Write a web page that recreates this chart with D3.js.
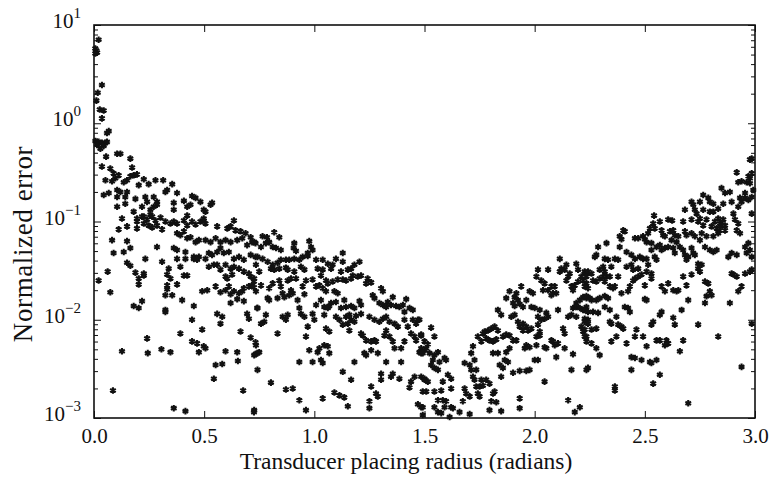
<!DOCTYPE html>
<html>
<head>
<meta charset="utf-8">
<script src="https://cdn.jsdelivr.net/npm/d3@7"></script>
<style>
  body { margin: 0; background: #fff; }
  svg text { font-family: "Liberation Serif", "Times New Roman", serif; fill: #111; }
</style>
</head>
<body>
<div id="chart"></div>
<script>
// each point: [transducer placing radius (rad), log10 of normalized error]
var decayNear = [
  [0.021,0.85],[0.006,0.76],[0.011,0.74],[0.014,0.72],[0.006,0.71],[0.036,0.39],[0.017,0.31],[0.011,0.23],
  [0.026,0.14],[0.044,0.13],[0.036,0.05],[0.067,-0.08],[0.059,-0.10],[0.006,-0.18],[0.021,-0.19],[0.036,-0.20],
  [0.052,-0.20],[0.059,-0.19],[0.014,-0.22],[0.044,-0.23],[0.029,-0.26],[0.055,-0.34],[0.105,-0.31],[0.120,-0.31],
  [0.165,-0.36],[0.036,-0.44],[0.074,-0.46],[0.089,-0.51],[0.112,-0.53],[0.097,-0.56],[0.173,-0.45],[0.052,-0.58],
  [0.082,-0.59],[0.135,-0.60],[0.150,-0.58],[0.165,-0.54],[0.180,-0.53],[0.195,-0.52],[0.226,-0.57],[0.279,-0.58],
  [0.314,-0.58],[0.355,-0.62],[0.203,-0.63],[0.248,-0.62],[0.332,-0.68],[0.377,-0.71],[0.067,-0.71],[0.044,-0.73],
  [0.105,-0.68],[0.120,-0.70],[0.150,-0.70],[0.105,-0.75],[0.142,-0.75],[0.188,-0.77],[0.233,-0.75],[0.271,-0.75],
  [0.241,-0.80],[0.286,-0.80],[0.324,-0.70],[0.105,-0.85],[0.142,-0.82],[0.180,-0.90],[0.218,-0.85],[0.256,-0.88],
  [0.271,-0.85],[0.286,-0.83],[0.362,-0.81],[0.362,-0.88],[0.408,-0.79],[0.423,-0.85],[0.445,-0.74],[0.461,-0.76],
  [0.483,-0.80],[0.438,-0.83],[0.498,-0.88],[0.506,-0.90],[0.529,-0.83],[0.536,-0.81],[0.226,-0.95],[0.256,-0.93],
  [0.127,-0.97],[0.423,-0.94],[0.498,-0.97],
  [0.195,-0.97],[0.218,-0.95],[0.241,-0.98],[0.264,-0.95],[0.279,-0.99],[0.302,-0.96],[0.324,-1.00],[0.195,-1.00],
  [0.226,-1.02],[0.248,-1.04],[0.264,-1.06],[0.286,-1.04],[0.309,-1.08],[0.347,-1.02],[0.362,-1.00],[0.377,-1.02],
  [0.408,-0.99],[0.423,-1.04],[0.445,-1.00],[0.461,-1.03],[0.483,-1.00],[0.498,-0.99],[0.506,-1.02],[0.635,-0.99],
  [0.559,-1.05],[0.605,-1.07],[0.620,-1.05],[0.642,-1.09],[0.665,-1.10],[0.688,-1.12],[0.711,-1.16],[0.112,-1.08],
  [0.150,-1.05],[0.195,-1.07],[0.082,-1.19],[0.150,-1.20],[0.377,-1.12],[0.392,-1.14],[0.408,-1.10],[0.423,-1.17],
  [0.438,-1.16],[0.461,-1.21],[0.476,-1.19],[0.506,-1.19],[0.529,-1.21],[0.552,-1.17],[0.574,-1.21],[0.597,-1.19],
  [0.620,-1.21],[0.650,-1.19],[0.673,-1.17],[0.695,-1.24],[0.718,-1.21],[0.733,-1.22],[0.089,-1.32],[0.135,-1.31],
  [0.165,-1.27],[0.286,-1.26],[0.362,-1.27],[0.377,-1.29],[0.415,-1.31],[0.453,-1.36],[0.476,-1.36],[0.506,-1.38],
  [0.521,-1.32],[0.536,-1.34],[0.559,-1.31],[0.574,-1.27],[0.589,-1.32],[0.612,-1.31],[0.635,-1.38],[0.658,-1.36],
  [0.680,-1.39],[0.711,-1.34],[0.733,-1.36],[0.377,-1.38],[0.415,-1.38],[0.233,-1.38],[0.150,-1.42],[0.165,-1.45],
  [0.309,-1.41],[0.339,-1.48],[0.392,-1.46],[0.453,-1.38],[0.468,-1.39],[0.521,-1.46],[0.544,-1.44],[0.559,-1.44],
  [0.574,-1.49],[0.597,-1.44],[0.620,-1.48],[0.635,-1.46],[0.658,-1.48],[0.680,-1.51],[0.703,-1.53],[0.062,-1.51],
  [0.188,-1.52],[0.226,-1.53],[0.226,-1.55],[0.203,-1.58],[0.332,-1.54],[0.347,-1.58],[0.408,-1.55],[0.423,-1.55],
  [0.597,-1.56],[0.605,-1.58],[0.627,-1.54],[0.711,-1.56],[0.726,-1.61],[0.718,-1.65],[0.021,-1.60],[0.203,-1.64],
  [0.332,-1.65],[0.332,-1.69],[0.377,-1.64],[0.491,-1.71],[0.514,-1.70],[0.552,-1.66],[0.574,-1.72],[0.597,-1.70],
  [0.612,-1.66],[0.620,-1.74],[0.635,-1.71],[0.658,-1.73],[0.673,-1.71],[0.680,-1.68],[0.703,-1.66],[0.726,-1.67],
  [0.074,-1.72],[0.324,-1.75],[0.355,-1.75],[0.400,-1.80],[0.180,-1.86],[0.203,-1.88],[0.218,-1.81],[0.324,-1.90],
  [0.324,-1.92],[0.453,-1.86],[0.559,-1.94],[0.620,-1.83],[0.650,-1.79],[0.680,-1.81],[0.695,-1.94],[0.703,-1.99],
  [0.445,-2.00],[0.582,-1.97],[0.574,-2.04],[0.741,-1.88],[0.241,-2.19],[0.392,-2.14],[0.445,-2.22],[0.468,-2.24],
  [0.491,-2.10],[0.498,-2.27],[0.476,-2.33],[0.506,-2.29],[0.711,-2.18],[0.733,-2.23],[0.665,-2.12],[0.127,-2.32],
  [0.244,-2.34],[0.306,-2.30],[0.347,-2.33],[0.597,-2.32],[0.650,-2.33],[0.733,-2.35],[0.552,-2.46],[0.582,-2.45],
  [0.653,-2.42],[0.544,-2.60],[0.086,-2.72],[0.677,-2.72],[0.362,-2.90],[0.415,-2.93],[0.726,-2.94]
];

var decayFar = [
  [0.765,-1.15],[0.785,-1.16],[0.795,-1.21],[0.818,-1.11],[0.841,-1.16],[0.780,-1.22],[0.727,-1.21],[0.758,-1.26],
  [0.811,-1.26],[0.826,-1.27],[0.848,-1.29],[0.909,-1.22],[0.906,-1.27],[0.917,-1.30],[0.977,-1.20],[0.985,-1.26],
  [0.992,-1.29],[0.970,-1.32],[1.129,-1.32],[0.742,-1.36],[0.765,-1.38],[0.788,-1.41],[0.811,-1.44],[0.833,-1.42],
  [0.848,-1.39],[0.871,-1.39],[0.886,-1.39],[0.909,-1.38],[0.932,-1.39],[0.947,-1.36],[0.970,-1.35],[1.008,-1.39],
  [1.038,-1.39],[1.061,-1.43],[1.083,-1.44],[1.098,-1.38],[1.129,-1.41],[1.167,-1.48],[1.182,-1.44],[1.205,-1.41],
  [0.735,-1.44],[0.750,-1.51],[0.803,-1.48],[0.818,-1.49],[0.841,-1.48],[0.871,-1.47],[0.879,-1.49],[0.909,-1.51],
  [0.939,-1.46],[0.955,-1.49],[1.015,-1.48],[1.038,-1.49],[1.076,-1.48],[1.121,-1.51],[1.152,-1.49],[1.174,-1.55],
  [1.197,-1.56],[1.212,-1.55],[0.727,-1.58],[0.758,-1.65],[0.811,-1.63],[0.841,-1.60],[0.879,-1.60],[0.894,-1.58],
  [0.917,-1.58],[0.962,-1.60],[0.992,-1.59],[1.030,-1.55],[1.053,-1.60],[1.061,-1.63],[1.083,-1.61],[1.106,-1.59],
  [1.129,-1.59],[1.144,-1.60],[1.167,-1.58],[1.242,-1.58],[1.235,-1.63],[1.258,-1.62],[1.303,-1.68],[1.311,-1.71],
  [0.735,-1.71],[0.795,-1.68],[0.848,-1.66],[0.856,-1.73],[0.864,-1.77],[0.886,-1.75],[0.902,-1.73],[0.947,-1.66],
  [0.955,-1.74],[1.008,-1.66],[1.023,-1.65],[1.038,-1.68],[1.053,-1.71],[1.091,-1.71],[1.106,-1.73],[1.136,-1.80],
  [1.098,-1.82],[1.076,-1.83],[1.061,-1.88],[1.068,-1.86],[0.788,-1.78],[0.795,-1.80],[0.833,-1.78],[0.894,-1.70],
  [0.924,-1.80],[1.008,-1.85],[1.030,-1.80],[1.045,-1.87],[1.061,-1.87],[1.121,-1.88],[1.144,-1.87],[1.167,-1.86],
  [1.182,-1.88],[1.205,-1.81],[1.212,-1.85],[1.265,-1.75],[1.273,-1.78],[1.295,-1.83],[1.311,-1.85],[1.326,-1.87],
  [1.333,-1.82],[1.348,-1.85],[1.356,-1.77],[1.371,-1.86],[1.386,-1.87],[1.402,-1.85],[1.417,-1.79],[1.432,-1.88],
  [1.447,-1.90],[1.409,-1.92],[0.742,-1.88],[0.780,-1.95],[0.773,-2.02],[0.758,-2.04],[0.856,-1.97],[0.879,-1.95],
  [0.871,-2.00],[0.932,-1.88],[0.939,-1.94],[0.955,-1.97],[0.992,-1.94],[1.000,-2.00],[0.970,-2.07],[1.045,-1.95],
  [1.053,-2.09],[1.068,-2.12],[1.098,-1.97],[1.114,-2.00],[1.129,-2.05],[1.144,-1.97],[1.159,-1.95],[1.167,-2.00],
  [1.182,-2.02],[1.152,-2.04],[1.159,-2.11],[1.189,-1.96],[1.212,-1.94],[1.250,-1.97],[1.273,-2.00],[1.295,-2.02],
  [1.311,-1.99],[1.326,-1.97],[1.341,-2.02],[1.364,-2.04],[1.379,-2.07],[1.409,-2.00],[1.424,-2.07],[1.447,-2.00],
  [1.462,-2.04],[1.470,-2.00],[0.833,-2.14],[0.962,-2.17],[0.977,-2.31],[1.023,-2.29],[1.045,-2.26],[1.061,-2.27],
  [1.068,-2.34],[1.015,-2.33],[0.932,-2.43],[0.992,-2.43],[1.030,-2.41],[1.038,-2.44],[1.182,-2.43],[1.212,-2.14],
  [1.220,-2.16],[1.235,-2.21],[1.258,-2.22],[1.273,-2.21],[1.258,-2.31],[1.280,-2.22],[1.227,-2.34],[1.235,-2.36],
  [1.288,-2.34],[1.326,-2.11],[1.341,-2.17],[1.318,-2.16],[1.356,-2.22],[1.364,-2.29],[1.394,-2.29],[1.409,-2.22],
  [1.439,-2.14],[1.455,-2.17],[1.462,-2.21],[1.485,-2.16],[1.477,-2.33],[1.485,-2.34],[1.500,-2.31],[1.326,-2.43],
  [1.394,-2.43],[0.735,-2.26],[0.750,-2.33],[0.742,-2.34],[0.727,-2.36],[0.742,-2.51],[0.803,-2.64],[0.871,-2.71],
  [0.902,-2.70],[0.932,-2.82],[0.962,-2.92],[1.038,-2.80],[1.091,-2.74],[1.114,-2.77],[1.136,-2.79],[1.129,-2.53],
  [1.167,-2.61],[1.152,-2.88],[1.250,-2.90],[1.250,-2.83],[1.258,-2.68],[1.280,-2.75],[1.288,-2.78],[1.303,-2.61],
  [1.303,-2.55],[1.348,-2.58],[1.356,-2.55],[1.386,-2.60],[1.432,-2.69],[1.439,-2.63],[1.455,-2.58],[1.470,-2.86],
  [1.492,-2.89],[1.492,-2.73],[1.500,-2.60],[0.727,-2.92]
];

var valley = [
  [1.477,-2.00],[1.530,-2.08],[1.485,-2.15],[1.545,-2.17],[1.500,-2.22],[1.515,-2.25],[1.485,-2.29],[1.508,-2.29],
  [1.492,-2.34],[1.523,-2.34],[1.561,-2.33],[1.545,-2.36],[1.538,-2.41],[1.568,-2.43],[1.530,-2.46],[1.545,-2.49],
  [1.561,-2.51],[1.598,-2.41],[1.591,-2.39],[1.485,-2.58],[1.500,-2.61],[1.515,-2.63],[1.583,-2.63],[1.606,-2.56],
  [1.621,-2.60],[1.621,-2.70],[1.508,-2.73],[1.545,-2.73],[1.576,-2.72],[1.561,-2.82],[1.583,-2.82],[1.598,-2.83],
  [1.545,-2.89],[1.591,-2.89],[1.621,-2.89],[1.629,-2.90],[1.485,-2.89],[1.492,-2.97],[1.561,-2.94],[1.576,-2.95],
  [1.614,-2.99],[1.659,-2.94],[1.705,-2.96],[1.682,-2.44],[1.705,-2.46],[1.712,-2.34],[1.720,-2.27],[1.727,-2.41],
  [1.735,-2.51],[1.712,-2.51],[1.720,-2.58],[1.727,-2.61],[1.735,-2.68],[1.750,-2.68],[1.765,-2.67],[1.758,-2.61],
  [1.742,-2.75],[1.750,-2.78],[1.682,-2.70],[1.689,-2.75],[1.705,-2.78],[1.674,-2.83],[1.780,-2.61],[1.795,-2.65],
  [1.811,-2.75],[1.818,-2.73],[1.803,-2.83],[1.826,-2.84],[1.795,-2.92],[1.848,-2.93],[1.742,-2.17],[1.765,-2.14],
  [1.773,-2.12],[1.788,-2.11],[1.803,-2.09],[1.818,-2.07],[1.780,-2.19],[1.795,-2.21],[1.811,-2.22],[1.826,-2.20],
  [1.856,-2.17],[1.871,-2.15],[1.886,-2.16],[1.902,-2.21],[1.917,-2.21],[1.811,-2.34],[1.833,-2.34],[1.871,-2.33],
  [1.864,-2.41],[1.879,-2.43],[1.841,-2.46],[1.856,-2.49],[1.848,-2.58],[1.902,-2.54],[1.932,-2.52],[1.962,-2.52],
  [1.977,-2.51],[1.932,-2.80],[1.932,-2.90],[1.758,-2.22],[1.886,-2.29],[1.833,-2.11],[1.833,-1.90],[1.848,-1.95],
  [1.871,-1.78],[1.886,-1.71],[1.909,-1.77],[1.917,-1.73],[1.924,-1.80],[1.902,-1.83],[1.909,-1.86],[1.932,-1.84],
  [1.947,-1.87],[1.962,-1.80],[1.977,-1.71],[1.992,-1.73],[1.985,-1.87],[2.000,-1.88],[1.894,-1.97],[1.909,-1.95],
  [1.924,-2.02],[1.932,-2.07],[1.947,-2.04],[1.962,-2.07],[1.947,-2.11],[1.970,-2.11],[1.985,-2.09],[2.015,-2.05],
  [2.023,-2.12],[2.008,-2.17],[2.023,-2.16],[1.962,-2.26],[1.977,-2.28],[1.955,-2.29],[2.008,-2.26],[2.000,-2.41],
  [2.015,-2.41],[2.045,-2.28],[2.053,-2.29],[2.076,-2.21],[2.083,-2.22],[2.091,-2.26],[2.106,-2.24],[2.098,-2.38],
  [2.136,-2.29],[2.174,-2.35],[2.045,-2.63],[2.167,-2.51],[2.152,-2.82],[2.182,-2.94],[2.205,-2.89],[2.242,-2.49],
  [1.939,-1.66],[2.008,-1.56],[2.015,-1.49],[2.030,-1.60],[2.045,-1.63],[2.061,-1.49],[2.038,-1.70],[2.061,-1.70],
  [2.076,-1.66],[2.083,-1.73],[2.098,-1.73],[2.091,-1.66],[2.076,-1.75],[2.053,-1.93],[2.061,-1.97],[2.045,-1.99],
  [2.030,-2.00],[2.015,-1.97],[2.023,-1.90],[2.106,-1.90],[2.114,-1.51],[2.121,-1.48],[2.144,-1.44],[2.114,-1.38],
  [2.136,-1.49],[2.152,-1.56],[2.159,-1.53],[2.144,-1.60],[2.167,-1.66],[2.174,-1.70],[2.182,-1.65],[2.197,-1.61],
  [2.189,-1.43],[2.197,-1.49],[2.212,-1.56],[2.220,-1.60],[2.227,-1.53],[2.235,-1.63],[2.242,-1.68],[2.235,-1.78],
  [2.220,-1.77],[2.205,-1.80],[2.189,-1.83],[2.174,-1.88],[2.189,-1.87],[2.205,-1.88],[2.220,-1.90],[2.235,-1.87],
  [2.242,-2.00],[2.227,-1.99],[2.212,-2.07],[2.220,-2.12],[2.235,-2.17],[2.152,-1.97],[2.167,-1.95],[2.129,-2.09],
  [2.136,-2.14],[2.189,-1.97]
];

var rise = [
  [2.917,-0.50],[2.924,-0.60],[2.939,-0.59],[2.962,-0.60],[2.970,-0.54],[2.985,-0.51],[2.977,-0.37],[2.985,-0.36],
  [2.977,-0.61],[2.992,-0.68],[2.955,-0.71],[2.848,-0.66],[2.886,-0.70],[2.864,-0.71],[2.894,-0.80],[2.932,-0.76],
  [2.939,-0.80],[2.924,-0.85],[2.955,-0.76],[2.970,-0.78],[2.985,-0.75],[2.977,-0.56],[2.765,-0.73],[2.788,-0.76],
  [2.795,-0.80],[2.811,-0.82],[2.833,-0.87],[2.856,-0.82],[2.750,-0.80],[2.712,-0.80],[2.720,-0.83],[2.727,-0.88],
  [2.682,-0.88],[2.735,-0.92],[2.750,-0.97],[2.765,-0.88],[2.795,-0.90],[2.811,-0.90],[2.833,-0.97],[2.841,-1.02],
  [2.848,-1.04],[2.856,-0.98],[2.864,-1.04],[2.864,-1.09],[2.902,-0.92],[2.909,-0.98],[2.924,-1.02],[2.917,-1.09],
  [2.932,-1.12],[2.985,-0.92],[2.542,-0.94],[2.538,-1.02],[2.568,-1.00],[2.606,-0.98],[2.624,-0.99],[2.674,-1.00],
  [2.712,-0.98],[2.742,-1.00],[2.765,-1.04],[2.780,-0.98],[2.803,-1.05],[2.818,-1.00],[2.826,-1.07],[2.833,-1.12],
  [2.841,-1.09],[2.811,-1.15],[2.780,-1.15],[2.758,-1.12],[2.750,-1.19],[2.727,-1.15],[2.712,-1.12],[2.689,-1.14],
  [2.682,-1.10],[2.402,-1.09],[2.409,-1.10],[2.386,-1.15],[2.394,-1.18],[2.455,-1.17],[2.470,-1.17],[2.492,-1.15],
  [2.500,-1.18],[2.508,-1.21],[2.515,-1.12],[2.523,-1.07],[2.545,-1.07],[2.576,-1.09],[2.583,-1.14],[2.591,-1.15],
  [2.614,-1.10],[2.629,-1.09],[2.636,-1.14],[2.652,-1.15],[2.621,-1.19],[2.644,-1.21],[2.659,-1.26],[2.674,-1.29],
  [2.682,-1.34],[2.697,-1.36],[2.689,-1.39],[2.712,-1.27],[2.720,-1.32],[2.727,-1.34],[2.742,-1.43],[2.758,-1.44],
  [2.773,-1.26],[2.795,-1.29],[2.811,-1.31],[2.826,-1.29],[2.879,-1.36],[2.894,-1.32],[2.917,-1.34],[2.955,-1.26],
  [2.962,-1.32],[2.970,-1.22],[2.977,-1.29],[2.985,-1.36],[2.288,-1.26],[2.326,-1.22],[2.280,-1.34],[2.273,-1.36],
  [2.318,-1.38],[2.333,-1.39],[2.364,-1.38],[2.379,-1.39],[2.386,-1.26],[2.417,-1.31],[2.439,-1.34],[2.455,-1.38],
  [2.477,-1.36],[2.492,-1.38],[2.508,-1.38],[2.417,-1.46],[2.439,-1.44],[2.447,-1.49],[2.470,-1.48],[2.508,-1.51],
  [2.515,-1.44],[2.530,-1.53],[2.553,-1.39],[2.545,-1.36],[2.553,-1.26],[2.530,-1.29],[2.530,-1.22],[2.568,-1.24],
  [2.576,-1.29],[2.591,-1.27],[2.606,-1.26],[2.629,-1.27],[2.636,-1.32],[2.227,-1.51],[2.242,-1.51],[2.258,-1.53],
  [2.295,-1.49],[2.311,-1.46],[2.318,-1.51],[2.348,-1.46],[2.235,-1.56],[2.265,-1.60],[2.280,-1.61],[2.295,-1.58],
  [2.311,-1.56],[2.326,-1.56],[2.341,-1.56],[2.318,-1.61],[2.341,-1.66],[2.356,-1.68],[2.364,-1.66],[2.379,-1.56],
  [2.394,-1.73],[2.424,-1.71],[2.432,-1.66],[2.447,-1.60],[2.455,-1.58],[2.470,-1.56],[2.485,-1.54],[2.500,-1.65],
  [2.530,-1.58],[2.576,-1.66],[2.591,-1.71],[2.606,-1.63],[2.629,-1.70],[2.644,-1.71],[2.652,-1.70],[2.674,-1.56],
  [2.689,-1.65],[2.712,-1.54],[2.742,-1.48],[2.750,-1.51],[2.773,-1.61],[2.788,-1.63],[2.795,-1.71],[2.803,-1.75],
  [2.773,-1.83],[2.780,-1.76],[2.886,-1.83],[2.894,-1.53],[2.902,-1.54],[2.917,-1.56],[2.939,-1.66],[2.924,-1.71],
  [2.955,-1.53],[2.977,-1.51],[2.985,-1.49],[2.227,-1.66],[2.235,-1.76],[2.250,-1.78],[2.258,-1.80],[2.280,-1.80],
  [2.295,-1.78],[2.318,-1.76],[2.333,-1.78],[2.341,-1.90],[2.227,-1.90],[2.242,-1.92],[2.265,-1.92],[2.288,-1.93],
  [2.318,-1.87],[2.341,-2.02],[2.348,-2.04],[2.371,-1.97],[2.379,-2.05],[2.394,-2.07],[2.402,-2.09],[2.409,-1.87],
  [2.424,-1.88],[2.432,-1.92],[2.500,-1.79],[2.508,-1.80],[2.576,-1.92],[2.568,-1.95],[2.538,-2.02],[2.530,-2.05],
  [2.629,-1.98],[2.636,-2.05],[2.667,-1.90],[2.697,-1.80],[2.674,-2.21],[2.659,-2.32],[2.742,-2.05],[2.833,-2.17],
  [2.985,-2.04],[2.227,-2.02],[2.242,-2.04],[2.227,-2.10],[2.258,-2.10],[2.280,-2.09],[2.227,-2.17],[2.235,-2.22],
  [2.258,-2.24],[2.280,-2.29],[2.295,-2.36],[2.348,-2.22],[2.371,-2.17],[2.417,-2.24],[2.455,-2.17],[2.462,-2.10],
  [2.492,-2.17],[2.508,-2.27],[2.553,-2.21],[2.568,-2.21],[2.598,-2.21],[2.606,-2.24],[2.591,-2.26],[2.439,-2.38],
  [2.455,-2.39],[2.485,-2.41],[2.523,-2.43],[2.530,-2.44],[2.553,-2.41],[2.439,-2.51],[2.568,-2.56],[2.538,-2.65],
  [2.364,-2.68],[2.364,-2.72],[2.235,-2.51],[2.697,-2.85],[2.939,-2.48]
];

var xTicks = [0, 0.5, 1.0, 1.5, 2.0, 2.5, 3.0];
var yDecades = [-3, -2, -1, 0, 1];
var xTitle = "Transducer placing radius (radians)";
var yTitle = "Normalized error";

var svgWidth = 773;
var svgHeight = 479;
var margin = { top: 25, right: 18, bottom: 61, left: 94 };
var width = svgWidth - margin.left - margin.right;
var height = svgHeight - margin.top - margin.bottom;

var svg = d3.select("#chart")
  .append("svg")
  .attr("width", svgWidth)
  .attr("height", svgHeight);

var chartGroup = svg.append("g")
  .attr("transform", `translate(${margin.left}, ${margin.top})`);

// turn every [radius, exponent] pair into a plain record
var points = decayNear.concat(decayFar, valley, rise).map(function(p) {
  return { radius: p[0], error: Math.pow(10, p[1]) };
});

var xScale = d3.scaleLinear().domain([0, 3]).range([0, width]);
var yScale = d3.scaleLog().domain([1e-3, 1e1]).range([height, 0]);

var majors = yDecades.map(d => Math.pow(10, d));
var minors = [];
yDecades.slice(0, -1).forEach(function(d) {
  for (var k = 2; k <= 9; k++) minors.push(k * Math.pow(10, d));
});

// inward ticks on all four sides
function tidy(g) { g.select(".domain").remove(); g.selectAll(".tick line").attr("stroke", "#111").attr("stroke-width", 1); }

chartGroup.append("g")
  .attr("transform", `translate(0, ${height})`)
  .call(d3.axisBottom(xScale).tickValues(xTicks).tickSizeInner(-7).tickSizeOuter(0)
    .tickPadding(10).tickFormat(d3.format(".1f")))
  .call(tidy)
  .selectAll("text").attr("font-size", 21).attr("font-family", "Liberation Serif").attr("fill", "#111");

chartGroup.append("g")
  .call(d3.axisTop(xScale).tickValues(xTicks).tickSizeInner(-7).tickSizeOuter(0).tickFormat(""))
  .call(tidy);

[majors, minors].forEach(function(vals, i) {
  var len = i === 0 ? -7 : -4;
  chartGroup.append("g")
    .call(d3.axisLeft(yScale).tickValues(vals).tickSizeInner(len).tickSizeOuter(0).tickFormat(""))
    .call(tidy);
  chartGroup.append("g")
    .attr("transform", `translate(${width}, 0)`)
    .call(d3.axisRight(yScale).tickValues(vals).tickSizeInner(len).tickSizeOuter(0).tickFormat(""))
    .call(tidy);
});

// y labels as 10 with a superscript exponent
var yLab = chartGroup.append("g").selectAll("text")
  .data(yDecades)
  .enter()
  .append("text")
  .attr("x", -13)
  .attr("y", d => yScale(Math.pow(10, d)) + 3)
  .attr("text-anchor", "end")
  .attr("font-size", 21);
yLab.append("tspan").text("10");
yLab.append("tspan")
  .attr("dy", -10)
  .attr("font-size", 15)
  .text(d => d < 0 ? "\u2212" + (-d) : String(d));

// frame
chartGroup.append("rect")
  .attr("width", width)
  .attr("height", height)
  .attr("fill", "none")
  .attr("stroke", "#111")
  .attr("stroke-width", 1.6);

// asterisk markers
var star = d3.symbol().type(d3.symbolAsterisk).size(30);
chartGroup.append("g")
  .selectAll("path")
  .data(points)
  .enter()
  .append("path")
  .attr("d", star)
  .attr("transform", d => `translate(${xScale(d.radius)}, ${yScale(d.error)})`)
  .attr("fill", "none")
  .attr("stroke", "#111")
  .attr("stroke-width", 2.1);

// axis titles
svg.append("text")
  .attr("x", 406)
  .attr("y", 469)
  .attr("text-anchor", "middle")
  .attr("font-size", 23.5)
  .text(xTitle);

svg.append("text")
  .attr("transform", "translate(32, 244) rotate(-90)")
  .attr("text-anchor", "middle")
  .attr("font-size", 27)
  .attr("letter-spacing", 0.6)
  .text(yTitle);
</script>
</body>
</html>
